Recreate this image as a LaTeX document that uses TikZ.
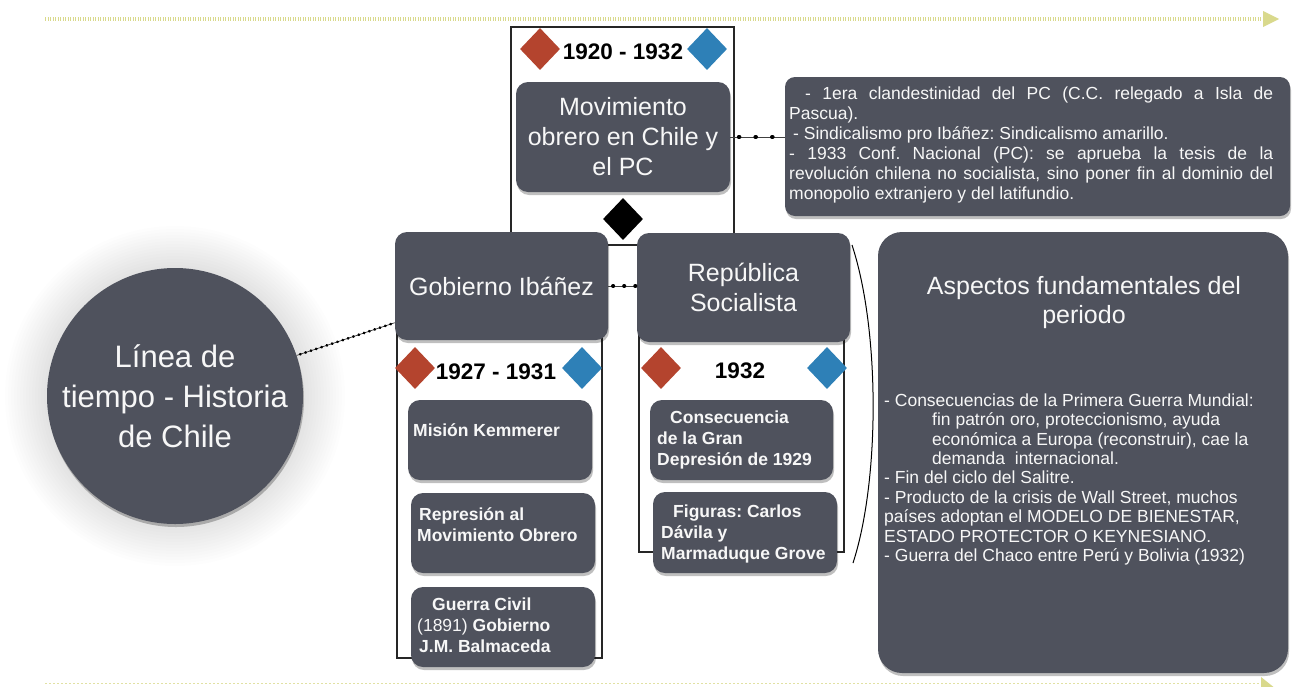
\documentclass[tikz,border=0pt]{standalone}
\usepackage{fontspec}
\setmainfont{Liberation Sans}
\usetikzlibrary{shapes.geometric,shadows}
\definecolor{boxgray}{HTML}{4F525D}
\definecolor{dred}{HTML}{B4442E}
\definecolor{dblue}{HTML}{2E80B7}
\definecolor{lineyel}{HTML}{D9D98C}
\definecolor{txtw}{HTML}{F7F7F7}
\newcommand\fsCirc{\fontsize{31}{40}\selectfont}
\newcommand\fsBig{\fontsize{25}{30}\selectfont}
\newcommand\fsTitle{\fontsize{25}{29}\selectfont}
\newcommand\fsYear{\fontsize{22.5}{27}\selectfont\bfseries}
\newcommand\fsSmall{\fontsize{17.5}{21.3}\selectfont\bfseries}
\newcommand\fsInfo{\fontsize{17.5}{20}\selectfont}
\newcommand\fsBody{\fontsize{17.5}{19.4}\selectfont}
\newcommand\topstrut{\rule{0pt}{1em}}
\tikzset{
  boxshadow/.style={drop shadow={shadow xshift=1pt, shadow yshift=-3pt, opacity=0.25, fill=black}},
  darkbox/.style={rectangle, rounded corners=12pt, fill=boxgray, inner sep=0pt, text=txtw, align=center, boxshadow},
  framebox/.style={draw=black!85, line width=1.3pt},
  dia/.style={diamond, minimum width=40pt, minimum height=42pt, inner sep=0pt},
  yeartxt/.style={font=\fsYear, text=black, inner sep=0pt},
  boxtxt/.style={anchor=north west, inner sep=0pt, align=left, text=txtw, font=\fsSmall},
  dotlink/.style n args={3}{draw=black!75, line width=0.7pt,
      postaction={draw=black, line width=#3, line cap=round, dash pattern=on 0.6pt off #1, dash phase=#2}},
  timeline/.style={draw=lineyel, line width=3.5pt, dash pattern=on 1.2pt off 1.3pt},
  timeline2/.style={draw=lineyel!80, line width=0.9pt, dash pattern=on 2pt off 2pt},
}
\begin{document}
\frenchspacing
\begin{tikzpicture}[x=1pt,y=-1pt]
\useasboundingbox (0,0) rectangle (1293,686);
\fill[white] (0,0) rectangle (1293,686);

% time lines
\coordinate (tlA) at (45,19);
\coordinate (tlB) at (1263,19);
\draw[timeline] (tlA) -- (tlB);
\fill[lineyel] (1263,11) -- (1279,19) -- (1263,27) -- cycle;
\coordinate (blA) at (45,683);
\coordinate (blB) at (1261,683);
\draw[timeline2] (blA) -- (blB);
\fill[lineyel] (1261,677) -- (1276,689) -- (1261,701) -- cycle;

% halo of the circle
\foreach \r in {131,134,...,170} \fill[black, opacity=0.007] (175,396) circle (\r);

% frames
\draw[framebox] (511,27) rectangle (734,245);
\draw[framebox] (397,330) rectangle (602,658);
\draw[framebox] (639,330) rectangle (844,552);

% diamonds and years
\node[dia, fill=dred] (d1r) at (540,49) {};
\node[dia, fill=dblue] (d1b) at (707,49) {};
\node[yeartxt] (y1) at (623,52) {1920 - 1932};
\node[dia, fill=black] (d1k) at (623,219) {};

\node[dia, fill=dred] (d2r) at (415,368) {};
\node[dia, fill=dblue] (d2b) at (582,368) {};
\node[yeartxt] (y2) at (496,372) {1927 - 1931};

\node[dia, fill=dred] (d3r) at (661,368) {};
\node[dia, fill=dblue] (d3b) at (827,368) {};
\node[yeartxt] (y3) at (740,371) {1932};

% main circle
\node[circle, fill=boxgray, minimum size=256pt, inner sep=0pt, text=txtw, align=center,
      font=\fsCirc, boxshadow] (circ) at (175,396) {Línea de\\tiempo - Historia\\de Chile};

% boxes
\node[darkbox, minimum width=214pt, minimum height=110pt, font=\fsBig] (mov) at (623,137)
  {Movimiento\\obrero en Chile y\\el PC};
\node[darkbox, rounded corners=10pt, minimum width=505pt, minimum height=139pt] (info) at (1037.5,146.5) {};
\node[anchor=north west, inner sep=0pt, text width=484pt, align=justify, text=txtw, font=\fsInfo] (infot) at (789,81.5)
  {\setlength\parindent{0pt}\setlength\parskip{0pt}\topstrut\hspace*{16pt}- 1era clandestinidad del PC (C.C. relegado a Isla de\linebreak Pascua).\par
   \hspace*{4pt}- Sindicalismo pro Ibáñez: Sindicalismo amarillo.\par
   - 1933 Conf. Nacional (PC): se aprueba la tesis de la\linebreak revolución chilena no socialista, sino poner fin al dominio del\linebreak monopolio extranjero y del latifundio.\par};

\node[darkbox, minimum width=213pt, minimum height=108pt, font=\fsBig] (gob) at (501.5,286) {Gobierno Ibáñez};
\node[darkbox, minimum width=213pt, minimum height=109pt, font=\fsBig] (rep) at (743.5,287.5) {República\\Socialista};

\node[darkbox, minimum width=184pt, minimum height=80pt] (kem) at (500,440) {};
\node[darkbox, minimum width=184pt, minimum height=80pt] (repr) at (503,533) {};
\node[darkbox, minimum width=184pt, minimum height=80pt] (guer) at (503,627) {};
\node[darkbox, minimum width=183pt, minimum height=80pt] (cons) at (741.5,440) {};
\node[darkbox, minimum width=184pt, minimum height=81pt] (fig) at (745,532.5) {};

\node[boxtxt] (kemt) at (413,418.5) {\topstrut Misión Kemmerer};
\node[boxtxt] (reprt) at (417,502.5) {\topstrut\hspace*{2pt}Represión al\\Movimiento Obrero};
\node[boxtxt] (guert) at (417,592.5) {\topstrut\hspace*{15pt}Guerra Civil\\{\mdseries (1891)} Gobierno\\\hspace*{2pt}J.M. Balmaceda};
\node[boxtxt] (const) at (657,405.5) {\topstrut\hspace*{13pt}Consecuencia\\de la Gran\\Depresión de 1929};
\node[boxtxt] (figt) at (661,499.5) {\topstrut\hspace*{12pt}Figuras: Carlos\\Dávila y\\Marmaduque Grove};

\node[darkbox, rounded corners=24pt, minimum width=410pt, minimum height=441pt] (asp) at (1083,452.5) {};
\node[anchor=north, inner sep=0pt, align=center, text=txtw, font=\fsTitle] (aspt) at (1084,269)
  {\topstrut Aspectos fundamentales del\\periodo};
\node[anchor=north west, inner sep=0pt, align=left, text=txtw, font=\fsBody] (aspb) at (884,388.5)
  {\topstrut- Consecuencias de la Primera Guerra Mundial:\\
   \hspace*{48pt}fin patrón oro, proteccionismo, ayuda\\
   \hspace*{48pt}económica a Europa (reconstruir), cae la\\
   \hspace*{48pt}demanda\ \ internacional.\\
   - Fin del ciclo del Salitre.\\
   - Producto de la crisis de Wall Street, muchos\\
   países adoptan el MODELO DE BIENESTAR,\\
   ESTADO PROTECTOR O KEYNESIANO.\\
   - Guerra del Chaco entre Perú y Bolivia (1932)};

% bracket
\coordinate (brA) at (852,245);
\coordinate (brB) at (880,330);
\coordinate (brC) at (880,480);
\coordinate (brD) at (853,563);
\draw[black, line width=1pt] (brA) .. controls (brB) and (brC) .. (brD);

% connectors
\draw[dotlink={5pt}{2pt}{2.6pt}] (circ) -- (gob.199);
\draw[dotlink={10.5pt}{6.5pt}{3.5pt}] (gob.east) -- (gob.east -| rep.west);
\draw[dotlink={16pt}{8pt}{4pt}] (mov.east) -- (mov.east -| info.west);
\end{tikzpicture}
\end{document}
